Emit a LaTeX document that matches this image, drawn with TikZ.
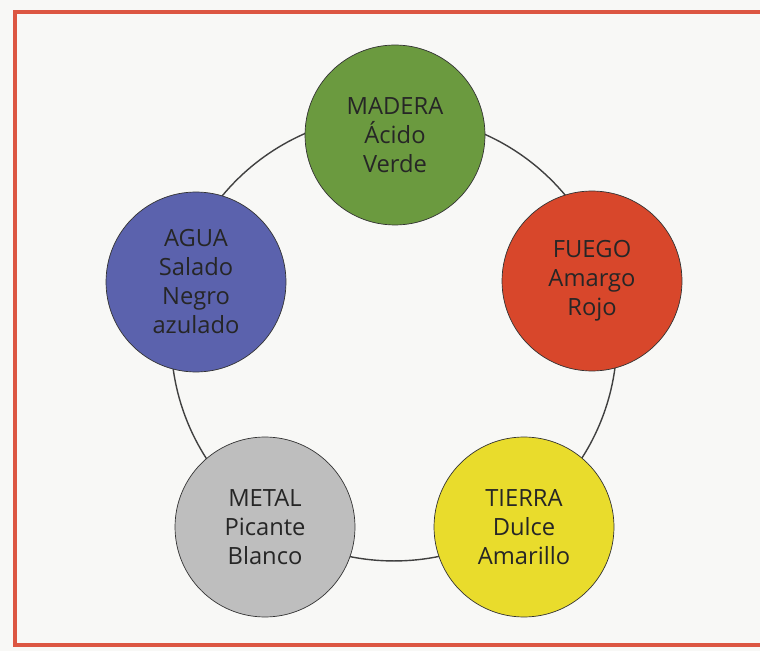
\documentclass[tikz,border=0pt]{standalone}
\usepackage{fontspec}
\setmainfont{Open Sans}
\definecolor{fondo}{HTML}{F8F8F6}
\definecolor{marcorojo}{HTML}{DC5642}
\definecolor{verdemadera}{HTML}{6B9A3F}
\definecolor{rojofuego}{HTML}{D8472B}
\definecolor{amarillotierra}{HTML}{E9DC2C}
\definecolor{grismetal}{HTML}{BEBEBE}
\definecolor{azulagua}{HTML}{5B62AD}
\tikzset{
	elemento/.style={
		circle,
		draw=black!80,
		thin,
		minimum size=3.6cm,
		inner sep=0pt,
		align=center,
		text=black!85,
		font=\fontsize{13.5}{16.5}\selectfont
	},
	anillo/.style={draw=black!75, line width=0.8pt},
	marco/.style={draw=marcorojo, line width=2.8pt, line join=miter}
}
\newcommand{\nodoelemento}[4]{% nombre, color, posicion, texto
	\node[elemento, fill=#2] (#1) at #3 {#4}
}

\begin{document}
\begin{tikzpicture}[x=0.02cm, y=-0.02cm]
	\fill[fondo] (0,0) rectangle (760,651);
	\useasboundingbox (0,0) rectangle (760,651);
	\draw[marco] (760,12) -- (15,12) -- (15,645) -- (760,645);

	% anillo que une los cinco elementos
	\coordinate (centro) at (394,338);
	\draw[anillo] (centro) circle[radius=4.46cm];

	\nodoelemento{madera}{verdemadera}{(395,135)}{MADERA\\Ácido\\Verde};
	\nodoelemento{fuego}{rojofuego}{(592,281)}{FUEGO\\Amargo\\Rojo};
	\nodoelemento{tierra}{amarillotierra}{(524,527)}{TIERRA\\Dulce\\Amarillo};
	\nodoelemento{metal}{grismetal}{(265,527)}{METAL\\Picante\\Blanco};
	\nodoelemento{agua}{azulagua}{(196,282)}{AGUA\\Salado\\Negro\\azulado};
\end{tikzpicture}
\end{document}
